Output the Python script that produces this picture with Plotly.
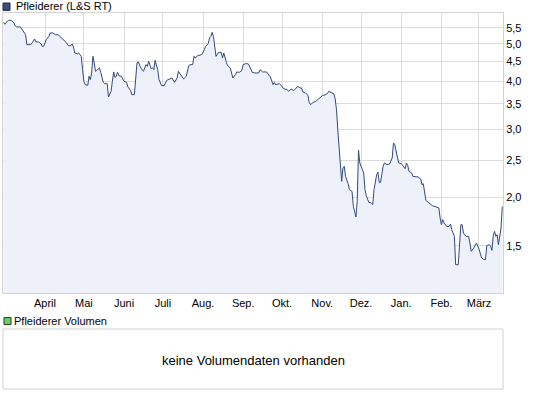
import plotly.graph_objects as go

dates = [
    "2011-02-28", "2011-03-01", "2011-03-02", "2011-03-04", "2011-03-06", "2011-03-08", "2011-03-09",
    "2011-03-10", "2011-03-13", "2011-03-14", "2011-03-16", "2011-03-17", "2011-03-18", "2011-03-21",
    "2011-03-22", "2011-03-24", "2011-03-25", "2011-03-27", "2011-03-29", "2011-03-30", "2011-03-31",
    "2011-04-02", "2011-04-04", "2011-04-05", "2011-04-07", "2011-04-09", "2011-04-11", "2011-04-13",
    "2011-04-15", "2011-04-17", "2011-04-19", "2011-04-21", "2011-04-22", "2011-04-23", "2011-04-24",
    "2011-04-26", "2011-04-27", "2011-04-29", "2011-04-30", "2011-05-01", "2011-05-02", "2011-05-04",
    "2011-05-05", "2011-05-06", "2011-05-07", "2011-05-08", "2011-05-09", "2011-05-10", "2011-05-11",
    "2011-05-13", "2011-05-14", "2011-05-16", "2011-05-17", "2011-05-19", "2011-05-20", "2011-05-22",
    "2011-05-23", "2011-05-24", "2011-05-25", "2011-05-26", "2011-05-27", "2011-05-28", "2011-05-30",
    "2011-06-01", "2011-06-03", "2011-06-04", "2011-06-06", "2011-06-07", "2011-06-09", "2011-06-10",
    "2011-06-11", "2011-06-12", "2011-06-14", "2011-06-16", "2011-06-18", "2011-06-19", "2011-06-20",
    "2011-06-22", "2011-06-23", "2011-06-24", "2011-06-25", "2011-06-27", "2011-06-28", "2011-06-30",
    "2011-07-02", "2011-07-04", "2011-07-06", "2011-07-08", "2011-07-10", "2011-07-12", "2011-07-13",
    "2011-07-15", "2011-07-17", "2011-07-19", "2011-07-21", "2011-07-22", "2011-07-24", "2011-07-25",
    "2011-07-26", "2011-07-28", "2011-07-30", "2011-07-31", "2011-08-02", "2011-08-03", "2011-08-05",
    "2011-08-06", "2011-08-07", "2011-08-08", "2011-08-09", "2011-08-10", "2011-08-11", "2011-08-13",
    "2011-08-15", "2011-08-16", "2011-08-17", "2011-08-19", "2011-08-20", "2011-08-22", "2011-08-23",
    "2011-08-24", "2011-08-26", "2011-08-27", "2011-08-29", "2011-08-31", "2011-09-01", "2011-09-03",
    "2011-09-05", "2011-09-07", "2011-09-08", "2011-09-10", "2011-09-13", "2011-09-14", "2011-09-16",
    "2011-09-19", "2011-09-21", "2011-09-22", "2011-09-24", "2011-09-25", "2011-09-26", "2011-09-29",
    "2011-10-01", "2011-10-02", "2011-10-05", "2011-10-06", "2011-10-08", "2011-10-10", "2011-10-12",
    "2011-10-13", "2011-10-15", "2011-10-16", "2011-10-17", "2011-10-19", "2011-10-21", "2011-10-22",
    "2011-10-23", "2011-10-25", "2011-10-27", "2011-10-29", "2011-11-01", "2011-11-03", "2011-11-05",
    "2011-11-06", "2011-11-08", "2011-11-10", "2011-11-11", "2011-11-12", "2011-11-13", "2011-11-14",
    "2011-11-15", "2011-11-16", "2011-11-17", "2011-11-18", "2011-11-19", "2011-11-20", "2011-11-21",
    "2011-11-22", "2011-11-24", "2011-11-25", "2011-11-26", "2011-11-27", "2011-11-28", "2011-11-29",
    "2011-11-30", "2011-12-02", "2011-12-03", "2011-12-04", "2011-12-05", "2011-12-07", "2011-12-09",
    "2011-12-10", "2011-12-11", "2011-12-13", "2011-12-14", "2011-12-15", "2011-12-16", "2011-12-18",
    "2011-12-19", "2011-12-21", "2011-12-23", "2011-12-25", "2011-12-26", "2011-12-27", "2011-12-28",
    "2011-12-30", "2012-01-01", "2012-01-03", "2012-01-04", "2012-01-05", "2012-01-06", "2012-01-07",
    "2012-01-09", "2012-01-10", "2012-01-12", "2012-01-14", "2012-01-16", "2012-01-17", "2012-01-18",
    "2012-01-19", "2012-01-20", "2012-01-21", "2012-01-23", "2012-01-25", "2012-01-27", "2012-01-28",
    "2012-01-30", "2012-01-31", "2012-02-01", "2012-02-02", "2012-02-03", "2012-02-05", "2012-02-07",
    "2012-02-08", "2012-02-09", "2012-02-11", "2012-02-12", "2012-02-14", "2012-02-15", "2012-02-16",
    "2012-02-17", "2012-02-18", "2012-02-20", "2012-02-22", "2012-02-23", "2012-02-24", "2012-02-26",
    "2012-02-27", "2012-02-28", "2012-03-01", "2012-03-02", "2012-03-03", "2012-03-05", "2012-03-06",
    "2012-03-07", "2012-03-09", "2012-03-10", "2012-03-11", "2012-03-12", "2012-03-13", "2012-03-14",
    "2012-03-15", "2012-03-16", "2012-03-17", "2012-03-18", "2012-03-19",
]

prices = [
    5.685, 5.618, 5.685, 5.754, 5.754, 5.665, 5.574,
    5.531, 5.531, 5.475, 5.356, 5.282, 4.977, 4.977,
    5.027, 5.149, 5.058, 5.058, 4.998, 4.918, 4.927,
    5.128, 5.229, 5.337, 5.337, 5.282, 5.282, 5.210,
    5.158, 5.058, 4.947, 4.947, 4.998, 4.909, 4.736,
    4.708, 4.736, 4.641, 4.287, 3.998, 3.920, 3.904,
    4.119, 4.039, 4.203, 4.641, 4.462, 4.244, 4.269,
    4.331, 4.219, 3.974, 3.944, 3.944, 3.642, 3.766,
    3.998, 4.229, 4.095, 4.119, 4.219, 4.136, 4.119,
    3.998, 3.974, 3.867, 3.789, 3.693, 3.693, 4.080,
    4.462, 4.489, 4.331, 4.244, 4.417, 4.372, 4.505,
    4.305, 4.331, 4.287, 4.532, 4.287, 4.039, 3.897,
    3.897, 4.022, 4.056, 4.080, 3.974, 4.080, 4.244,
    4.161, 4.056, 4.119, 4.391, 4.417, 4.417, 4.641,
    4.597, 4.661, 4.688, 4.688, 4.830, 4.927, 5.006,
    5.180, 5.229, 5.356, 5.229, 4.977, 4.641, 4.753,
    4.753, 4.597, 4.736, 4.478, 4.391, 4.331, 4.161,
    4.080, 4.161, 4.229, 4.219, 4.269, 4.417, 4.444,
    4.436, 4.262, 4.219, 4.203, 4.203, 4.287, 4.229,
    4.229, 4.161, 4.104, 3.920, 3.974, 3.920, 3.944,
    3.881, 3.828, 3.805, 3.766, 3.821, 3.782, 3.844,
    3.881, 3.844, 3.844, 3.753, 3.731, 3.678, 3.514,
    3.479, 3.527, 3.548, 3.599, 3.671, 3.687, 3.715,
    3.766, 3.731, 3.709, 3.599, 3.377, 2.997, 2.660,
    2.361, 2.202, 2.385, 2.408, 2.268, 2.224, 2.171,
    2.095, 2.074, 1.896, 1.823, 1.780, 1.954, 2.649,
    2.457, 2.361, 2.315, 2.095, 2.021, 1.942, 1.935,
    1.916, 2.095, 2.291, 2.328, 2.188, 2.188, 2.408,
    2.457, 2.432, 2.442, 2.531, 2.768, 2.740, 2.649,
    2.457, 2.447, 2.408, 2.375, 2.457, 2.418, 2.337,
    2.315, 2.268, 2.268, 2.260, 2.233, 2.159, 2.171,
    2.054, 1.965, 1.954, 1.927, 1.904, 1.896, 1.890,
    1.878, 1.770, 1.700, 1.752, 1.718, 1.683, 1.683,
    1.707, 1.650, 1.586, 1.339, 1.339, 1.494, 1.700,
    1.700, 1.618, 1.586, 1.586, 1.524, 1.450, 1.480,
    1.509, 1.524, 1.471, 1.422, 1.394, 1.380, 1.380,
    1.500, 1.509, 1.494, 1.459, 1.592, 1.634, 1.586,
    1.602, 1.509, 1.571, 1.667, 1.896,
]

month_ticks = ["2011-04-01", "2011-05-01", "2011-06-01", "2011-07-01", "2011-08-01", "2011-09-01",
               "2011-10-01", "2011-11-01", "2011-12-01", "2012-01-01", "2012-02-01", "2012-03-01"]
month_labels = ["April", "Mai", "Juni", "Juli", "Aug.", "Sep.", "Okt.", "Nov.", "Dez.", "Jan.", "Feb.", "März"]

price_ticks = [1.5, 2.0, 2.5, 3.0, 3.5, 4.0, 4.5, 5.0, 5.5]
price_labels = ["1,5", "2,0", "2,5", "3,0", "3,5", "4,0", "4,5", "5,0", "5,5"]

series_name = "Pfleiderer (L&S RT)"
volume_name = "Pfleiderer Volumen"
volume_note = "keine Volumendaten vorhanden"

FONT = "Liberation Sans, Arial, sans-serif"
LINE = "#33497c"
FILL = "#eef1fa"
GRID = "#dcdcdc"
BORDER = "#d2d2d2"

fig = go.Figure()
fig.add_trace(go.Scatter(
    x=dates, y=prices, mode="lines",
    line=dict(color=LINE, width=1),
    fill="tozeroy", fillcolor=FILL,
    hoverinfo="skip", showlegend=False,
))

main_bottom = 0.2553
vol_top = 0.1596

fig.update_layout(
    width=545, height=398,
    margin=dict(l=3, r=42, t=13, b=9),
    paper_bgcolor="white", plot_bgcolor="white",
    font=dict(family=FONT, size=11, color="#000000"),
    showlegend=False,
    xaxis=dict(
        type="date",
        range=["2011-02-27 14:00", "2012-03-19 12:45"],
        tickvals=month_ticks, ticktext=month_labels,
        showgrid=True, gridcolor=GRID, gridwidth=1,
        showline=True, linecolor=BORDER, linewidth=1, mirror=True,
        ticks="", zeroline=False,
        tickfont=dict(family=FONT, size=11, color="#000000"),
        domain=[0, 1],
    ),
    yaxis=dict(
        type="log",
        range=[0.0535, 0.7789],
        tickvals=price_ticks, ticktext=price_labels,
        side="right",
        showgrid=True, gridcolor=GRID, gridwidth=1,
        showline=True, linecolor=BORDER, linewidth=1, mirror=True,
        ticks="", zeroline=False,
        tickfont=dict(family=FONT, size=11, color="#000000"),
        domain=[main_bottom, 1],
    ),
    shapes=[
        dict(type="rect", xref="paper", yref="paper", x0=0, x1=1, y0=0, y1=vol_top,
             line=dict(color=BORDER, width=1), fillcolor="white", layer="below"),
        dict(type="rect", xref="paper", yref="paper", x0=0.0, x1=0.014, y0=1.0070, y1=1.0266,
             line=dict(color="#1e2a44", width=1), fillcolor="#3b4d7a"),
        dict(type="rect", xref="paper", yref="paper", x0=0.002, x1=0.016, y0=(389 - 324.6) / 376,
             y1=(389 - 317.6) / 376, line=dict(color="#1e3a1e", width=1), fillcolor="#6ccf6c"),
    ],
    annotations=[
        dict(text=series_name, xref="paper", yref="paper", x=0.022, y=(389 - 6) / 376,
             xanchor="left", yanchor="middle", showarrow=False,
             font=dict(family=FONT, size=11, color="#000000")),
        dict(text=volume_name, xref="paper", yref="paper", x=0.018, y=(389 - 321) / 376,
             xanchor="left", yanchor="middle", showarrow=False,
             font=dict(family=FONT, size=11, color="#000000")),
        dict(text=volume_note, xref="paper", yref="paper", x=0.5, y=(389 - 360) / 376,
             xanchor="center", yanchor="middle", showarrow=False,
             font=dict(family=FONT, size=13, color="#000000")),
    ],
)

fig.write_html("out.html", config={"displayModeBar": False},
               post_script="document.body.style.margin='0px';")
